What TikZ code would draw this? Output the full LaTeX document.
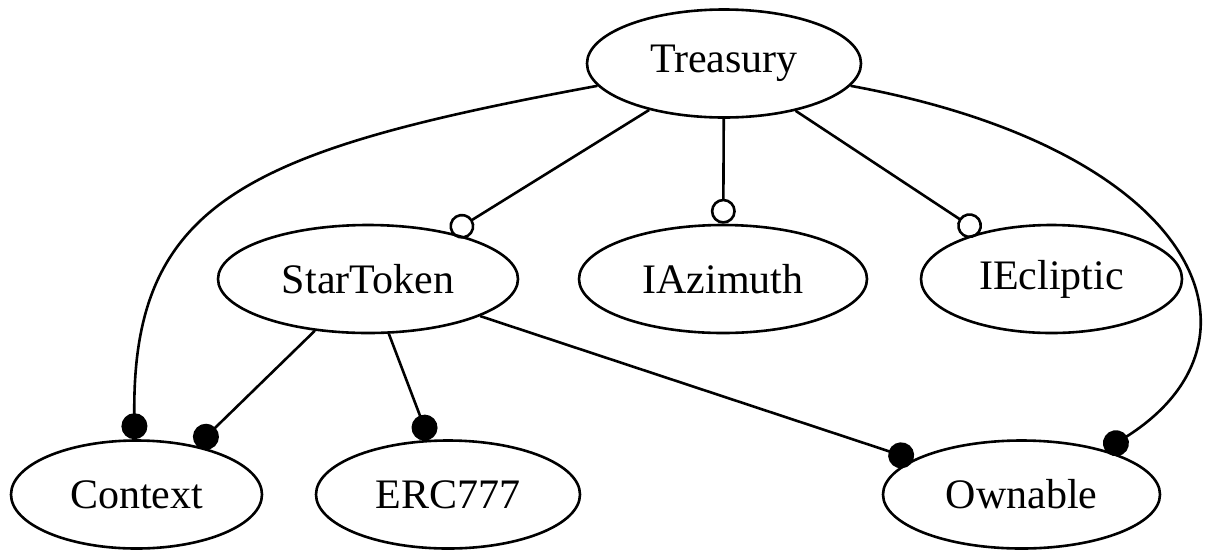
\documentclass[tikz,border=0pt]{standalone}
\usepackage{fontspec}
\setmainfont{Liberation Serif}
\usetikzlibrary{arrows.meta,shapes.geometric}
\tikzset{
  nd/.style={draw, ellipse, line width=2.6pt, inner sep=0pt, minimum height=108pt,
    font=\fontsize{42}{50}\selectfont},
  edge/.style={line width=2.6pt},
  fdot/.style={edge, -{Circle[length=26pt,width=26pt]}},
  odot/.style={edge, -{Circle[open,length=25pt,width=25pt]}},
}
\begin{document}
\begin{tikzpicture}[x=1pt,y=-1pt]
\useasboundingbox (0,0) rectangle (1231,550);
\node[nd, minimum width=274pt] (T) at (724,63.5) {Treasury};
\node[nd, minimum width=300pt] (S) at (368,279) {StarToken};
\node[nd, minimum width=288pt] (IA) at (723,279) {IAzimuth};
\node[nd, minimum width=261pt] (IE) at (1051.5,279) {IEcliptic};
\node[nd, minimum width=251pt] (C) at (136.5,494.5) {Context};
\node[nd, minimum width=264pt] (E) at (448,494.5) {ERC777};
\node[nd, minimum width=277pt] (O) at (1021.5,494.5) {Ownable};

\draw[odot] (T) -- (S.29);
\draw[odot] (T) -- (IA);
\draw[odot] (T) -- (IE.147);
\draw[fdot] (T.190) .. controls (250,150) and (132,200) .. (C.92);
\draw[fdot] (T.350) .. controls (1200,150) and (1280,340) .. (O.28);
\draw[fdot] (S) -- (C.39);
\draw[fdot] (S) -- (E.109);
\draw[fdot] (S) -- (O.162);
\end{tikzpicture}
\end{document}
